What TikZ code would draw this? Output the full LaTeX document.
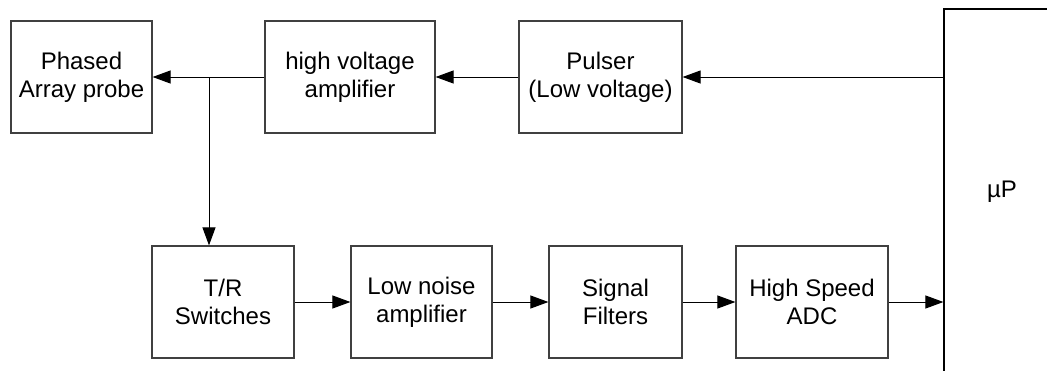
\documentclass[tikz,border=0pt]{standalone}
\usepackage{fontspec}
\setmainfont{Liberation Sans}
\usetikzlibrary{arrows.meta}
\definecolor{boxgray}{HTML}{404040}
\begin{document}
\begin{tikzpicture}[x=1pt,y=-1pt,
  blk/.style={draw=boxgray, line width=1.2pt, inner sep=0pt, minimum height=112pt,
    align=center, font=\fontsize{24pt}{28pt}\selectfont},
  arr/.style={draw=black, line width=1pt, -{Triangle[length=18pt,width=13pt]}}]
\clip (0,0) rectangle (1047,370);
\useasboundingbox (0,0) rectangle (1047,370);
\node[blk, minimum width=141pt] (probe) at (81.5,77) {Phased\\Array probe};
\node[blk, minimum width=170pt] (hva) at (350,77) {high voltage\\amplifier};
\node[blk, minimum width=163pt] (pulser) at (600.5,77) {Pulser\\(Low voltage)};
\node[blk, minimum width=142pt] (tr) at (223,302) {T/R\\Switches};
\node[blk, minimum width=141pt] (lna) at (421.5,302) {Low noise\\amplifier};
\node[blk, minimum width=133pt] (sf) at (615.5,302) {Signal\\Filters};
\node[blk, minimum width=152pt] (adc) at (812,302) {High Speed\\ADC};
\node[blk, draw=black, minimum width=116pt, minimum height=366pt] (mp) at (1002,192) {µP};
\coordinate (br) at (209,77);
\draw[arr] (mp.west |- pulser.east) -- (pulser.east);
\draw[arr] (pulser.west) -- (hva.east);
\draw[arr] (hva.west) -- (probe.east);
\draw[arr] (br) -- (br |- tr.north);
\draw[arr] (tr.east) -- (lna.west);
\draw[arr] (lna.east) -- (sf.west);
\draw[arr] (sf.east) -- (adc.west);
\draw[arr] (adc.east) -- (mp.west |- adc.east);
\end{tikzpicture}
\end{document}
